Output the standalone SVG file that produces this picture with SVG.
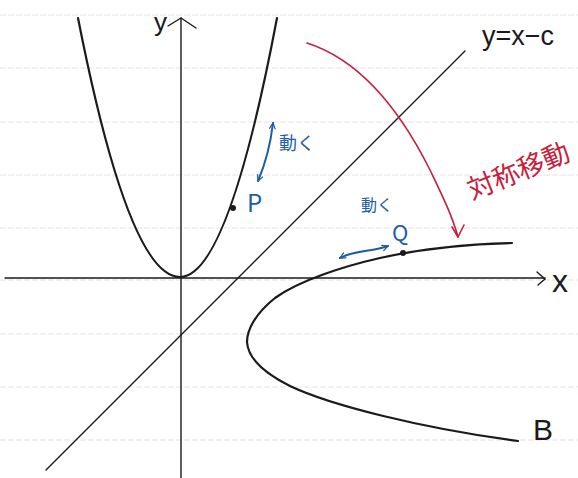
<svg xmlns="http://www.w3.org/2000/svg" width="578" height="478" viewBox="0 0 578 478">
<style>
.rule{stroke:#ecdfe3;stroke-width:1.2;stroke-dasharray:6 2}
.ink{fill:none;stroke:#1a1a1a;stroke-width:2.2;stroke-linecap:round;stroke-linejoin:round}
.thin{fill:none;stroke:#1a1a1a;stroke-width:1.4;stroke-linecap:round}
.blue{fill:none;stroke:#1d5ca6;stroke-width:2;stroke-linecap:round;stroke-linejoin:round}
.red{fill:none;stroke:#c61f3e;stroke-width:1.6;stroke-linecap:round;stroke-linejoin:round}
.lbl{font-family:"Liberation Sans","Noto Sans CJK JP",sans-serif;fill:#1a1a1a}
.bl{font-family:"Noto Sans CJK JP","Liberation Sans",sans-serif;fill:#1d5ca6}
.rd{font-family:"Noto Sans CJK JP",sans-serif;fill:#c61f3e}
</style>
<defs>
<marker id="ab" viewBox="0 0 10 10" refX="9" refY="5" markerWidth="7" markerHeight="7" orient="auto-start-reverse" markerUnits="userSpaceOnUse">
<path d="M1,1 L9,5 L1,9" fill="none" stroke="#1d5ca6" stroke-width="1.8" stroke-linecap="round"/>
</marker>
</defs>
<rect width="578" height="478" fill="#ffffff"/>
<g id="rules">
<line class="rule" x1="0" y1="15" x2="578" y2="15"/>
<line class="rule" x1="0" y1="68" x2="578" y2="68"/>
<line class="rule" x1="0" y1="122" x2="578" y2="122"/>
<line class="rule" x1="0" y1="175" x2="578" y2="175"/>
<line class="rule" x1="0" y1="228" x2="578" y2="228"/>
<line class="rule" x1="0" y1="280" x2="578" y2="280"/>
<line class="rule" x1="0" y1="334" x2="578" y2="334"/>
<line class="rule" x1="0" y1="387" x2="578" y2="387"/>
<line class="rule" x1="0" y1="440" x2="578" y2="440"/>
</g>
<g id="y-axis">
<line class="thin" x1="181" y1="18" x2="181" y2="478"/>
<path class="thin" d="M168,26 L181,18 L196,28"/>
<text class="lbl" x="154" y="31" font-size="26">y</text>
</g>
<g id="x-axis">
<line class="thin" x1="5" y1="278" x2="545" y2="278"/>
<path class="thin" d="M537,272 L545,279 L538,285"/>
<text class="lbl" x="552" y="292" font-size="32">x</text>
</g>
<g id="line-c">
<line class="thin" x1="46" y1="470" x2="465" y2="51"/>
<text class="lbl" x="482" y="45" font-size="27">y=x−c</text>
</g>
<g id="curve-A">
<path class="ink" d="M78,18 Q129,277 180,277 Q228,277 277,18"/>
</g>
<g id="curve-B">
<path class="ink" d="M512,243 C470,244 420,249 380,258 C345,266 300,280 275,298 C255,314 247,330 247,342 C248,358 262,372 290,386 C330,405 420,428 518,441"/>
<text class="lbl" x="533" y="440" font-size="30">B</text>
</g>
<g id="point-P">
<circle cx="233" cy="208" r="3" fill="#1a1a1a"/>
<text class="bl" x="247" y="212" font-size="24">P</text>
<text class="bl" x="279" y="150" font-size="18">動く</text>
</g>
<g id="point-Q">
<circle cx="403" cy="253" r="3" fill="#1a1a1a"/>
<text class="bl" x="392" y="241" font-size="22">Q</text>
<text class="bl" x="361" y="211" font-size="16">動く</text>
</g>
<g id="reflect-label">
<text class="rd" x="0" y="0" font-size="27" transform="translate(472,200) rotate(-22)">対称移動</text>
</g>
<g id="connectors">
<path class="blue" d="M273,123 C271,140 267,160 258,181" marker-start="url(#ab)" marker-end="url(#ab)"/>
<path class="blue" d="M340,258 C355,250 372,252 388,246" marker-start="url(#ab)" marker-end="url(#ab)"/>
<path class="red" d="M307,43 C360,60 400,110 430,170 C442,195 452,215 458,237"/>
<path class="red" d="M452,227 L458,237 L464,225"/>
</g>
</svg>
